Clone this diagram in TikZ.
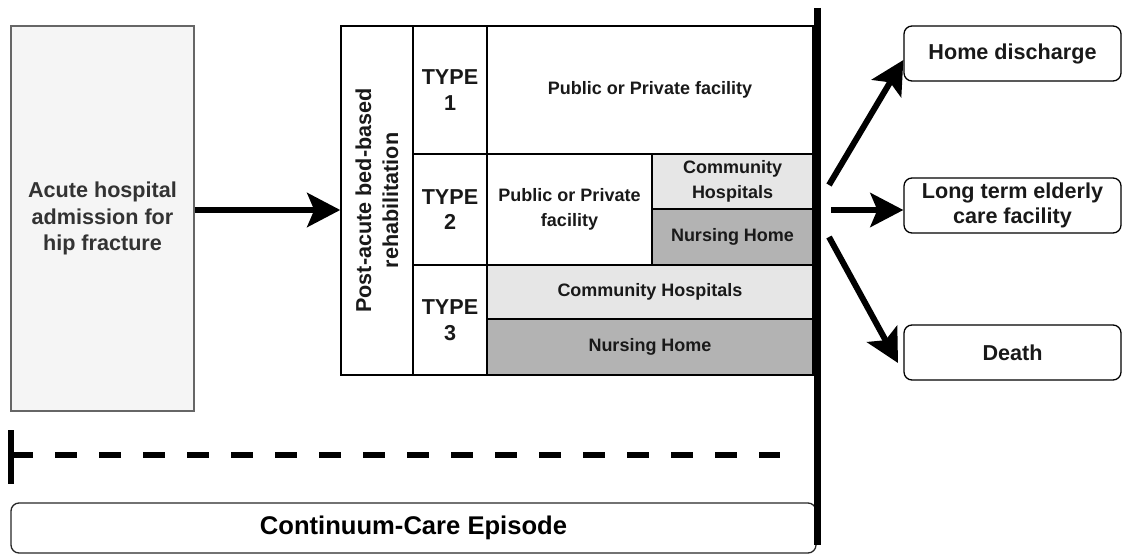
\documentclass[tikz,border=0pt]{standalone}
\usepackage{fontspec}
\setmainfont{Liberation Sans}
\usetikzlibrary{arrows.meta}
\definecolor{boxgray}{HTML}{F5F5F5}
\definecolor{boxedge}{HTML}{666666}
\definecolor{lightcell}{HTML}{E6E6E6}
\definecolor{darkcell}{HTML}{B3B3B3}
\definecolor{txtdark}{HTML}{333333}
\begin{document}
\begin{tikzpicture}[x=1pt,y=-1pt,
  bigtext/.style={font=\fontsize{21.6}{25.5}\selectfont\bfseries, align=center},
  celltext/.style={font=\fontsize{18}{25}\selectfont\bfseries, align=center},
  cell/.style={draw=black, line width=1.5pt, inner sep=0pt, text=black!90},
  outcome/.style={draw=black, line width=1.3pt, rounded corners=8pt, inner sep=0pt, bigtext, text=black!90},
  bigarrow/.style={line width=6pt, -{Stealth[length=33pt,width=34pt,inset=7pt]}},
]
\useasboundingbox (0,0) rectangle (1123,556);
% acute hospital box
\node[draw=boxedge, fill=boxgray, line width=1.3pt, minimum width=183pt, minimum height=385pt, inner sep=0pt,
  font=\fontsize{21.6}{26.5}\selectfont\bfseries, align=center, text=txtdark] (acute) at (102.5,218.5) {Acute hospital\\admission for\\hip fracture};
% table
\node[cell, minimum width=72pt, minimum height=349pt] (rehab) at (377,200.5)
  {\rotatebox{90}{\parbox{260pt}{\centering\fontsize{21.6}{27}\selectfont\bfseries Post-acute bed-based\\rehabilitation}}};
\node[cell, minimum width=74pt, minimum height=128pt, bigtext] (t1) at (450,90) {TYPE\\1};
\node[cell, minimum width=326pt, minimum height=128pt, celltext] (p1) at (650,90) {Public or Private facility};
\node[cell, minimum width=74pt, minimum height=111pt, bigtext] (t2) at (450,209.5) {TYPE\\2};
\node[cell, minimum width=165pt, minimum height=111pt, celltext] (p2) at (569.5,209.5) {Public or Private\\facility};
\node[cell, fill=lightcell, minimum width=161pt, minimum height=55pt, celltext] (ch2) at (732.5,181.5) {Community\\Hospitals};
\node[cell, fill=darkcell, minimum width=161pt, minimum height=56pt, celltext] (nh2) at (732.5,237) {Nursing Home};
\node[cell, minimum width=74pt, minimum height=110pt, bigtext] (t3) at (450,320) {TYPE\\3};
\node[cell, fill=lightcell, minimum width=326pt, minimum height=54pt, celltext] (ch3) at (650,292) {Community Hospitals};
\node[cell, fill=darkcell, minimum width=326pt, minimum height=56pt, celltext] (nh3) at (650,347) {Nursing Home};
% acute -> rehab
\draw[bigarrow] (acute.east |- 0,210) -- (rehab.west |- 0,210);
% outcomes
\node[outcome, minimum width=217pt, minimum height=55pt] (home) at (1012.5,53.5) {Home discharge};
\node[outcome, minimum width=217pt, minimum height=55pt] (ltc) at (1012.5,205.5) {Long term elderly\\care facility};
\node[outcome, minimum width=217pt, minimum height=55pt] (death) at (1012.5,352.5) {Death};
% continuum episode
\node[draw=black!85, line width=1.3pt, rounded corners=8pt, minimum width=805pt, minimum height=50pt, inner sep=0pt,
  font=\fontsize{25.6}{30}\selectfont\bfseries, text=black] (episode) at (413.5,528) {Continuum-Care Episode};
% vertical boundary
\coordinate (vtop) at (817,8);
\coordinate (vbot) at (817,545);
\draw[line width=7pt] (vtop) -- (vbot);
% outcome arrows
\coordinate (s1) at (829,185);
\coordinate (s2) at (831,210);
\coordinate (s3) at (829,237);
\draw[bigarrow] (s1) -- (home.west |- 0,60);
\draw[bigarrow] (s2) -- (home.west |- 0,210);
\draw[bigarrow] (s3) -- (898,363) coordinate (dtip);
% dashed timeline
\coordinate (bartop) at (11,430);
\coordinate (barbot) at (11,484);
\coordinate (dstart) at (11,455);
\coordinate (dend) at (780,455);
\draw[line width=6pt] (bartop) -- (barbot);
\draw[line width=6pt, dash pattern=on 22pt off 22pt] (dstart) -- (dend);
\end{tikzpicture}
\end{document}
